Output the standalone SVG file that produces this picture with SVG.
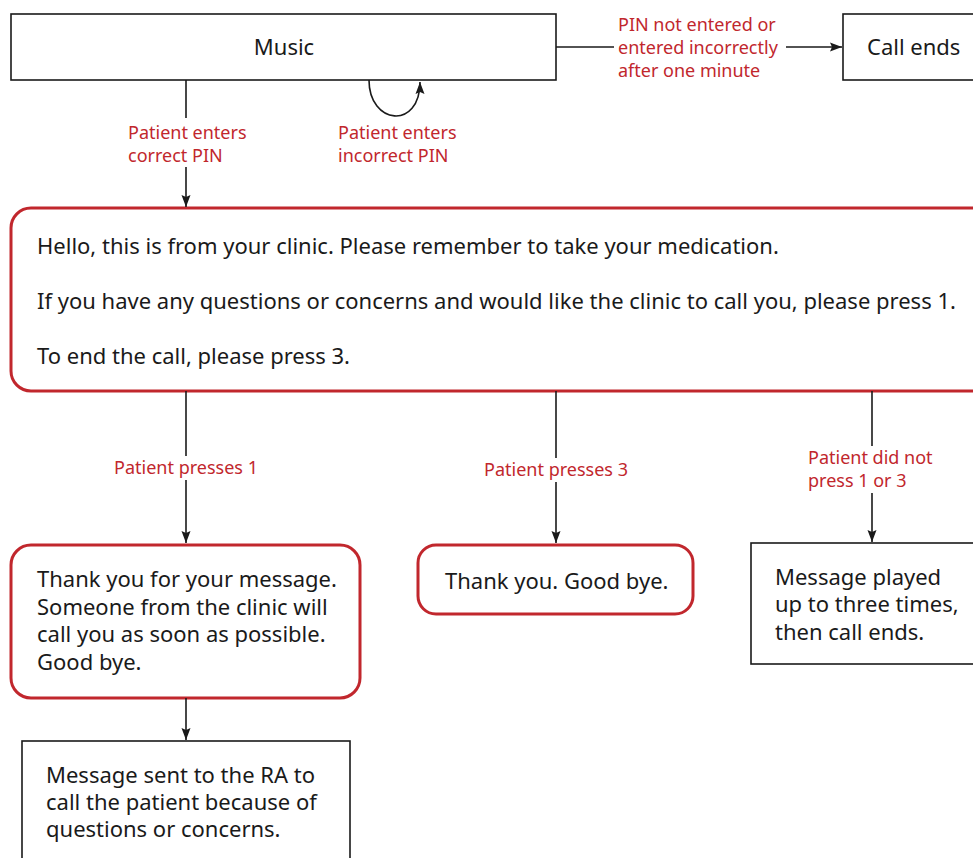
<svg xmlns="http://www.w3.org/2000/svg" width="973" height="858" viewBox="0 0 973 858">
<defs>
<marker id="ah" viewBox="0 0 12 10" refX="12" refY="5" markerWidth="12" markerHeight="10" markerUnits="userSpaceOnUse" orient="auto">
<path d="M0,0.5 L12,5 L0,9.5 L2,5 z" fill="#1a1a1a"/>
</marker>
<style>
.box{fill:#fff;stroke:#1a1a1a;stroke-width:1.6}
.rbox{fill:#fff;stroke:#c1272d;stroke-width:3}
.t{font-family:"Noto Sans","Open Sans","DejaVu Sans",sans-serif;font-size:22px;fill:#1a1a1a}
.l{font-family:"Noto Sans","Open Sans","DejaVu Sans",sans-serif;font-size:18px;fill:#c1272d}
.c{fill:none;stroke:#1a1a1a;stroke-width:1.6}
</style>
</defs>
<rect width="973" height="858" fill="#fff"/>
<g id="music"><rect class="box" x="11" y="14" width="545" height="66"/><text class="t" x="284" y="55" text-anchor="middle">Music</text></g>
<g id="callends"><rect class="box" x="843" y="14" width="140" height="66"/><text class="t" x="867" y="55">Call ends</text></g>
<g id="greeting"><rect class="rbox" x="11" y="208" width="980" height="183" rx="20"/>
<text class="t" x="37" y="254">Hello, this is from your clinic. Please remember to take your medication.</text>
<text class="t" x="37" y="309">If you have any questions or concerns and would like the clinic to call you, please press 1.</text>
<text class="t" x="37" y="364">To end the call, please press 3.</text></g>
<g id="thanks1"><rect class="rbox" x="11" y="545" width="349" height="153" rx="20"/>
<text class="t" x="37" y="587">Thank you for your message.</text>
<text class="t" x="37" y="615">Someone from the clinic will</text>
<text class="t" x="37" y="642">call you as soon as possible.</text>
<text class="t" x="37" y="670">Good bye.</text></g>
<g id="thanks3"><rect class="rbox" x="418" y="545" width="275" height="69" rx="18"/>
<text class="t" x="445" y="589">Thank you. Good bye.</text></g>
<g id="replay"><rect class="box" x="751" y="543" width="240" height="121"/>
<text class="t" x="775" y="585">Message played</text>
<text class="t" x="775" y="612">up to three times,</text>
<text class="t" x="775" y="640">then call ends.</text></g>
<g id="ra"><rect class="box" x="22" y="741" width="328" height="130"/>
<text class="t" x="46" y="783">Message sent to the RA to</text>
<text class="t" x="46" y="810">call the patient because of</text>
<text class="t" x="46" y="837">questions or concerns.</text></g>
<g id="connectors">
<path class="c" d="M556,47 H614"/>
<path class="c" d="M786,47 H842" marker-end="url(#ah)"/>
<path class="c" d="M186,80 V118"/>
<path class="c" d="M186,167 V207" marker-end="url(#ah)"/>
<path class="c" d="M369,80 C369,125 420,130 420,82" marker-end="url(#ah)"/>
<path class="c" d="M186,391 V456"/>
<path class="c" d="M186,480 V543" marker-end="url(#ah)"/>
<path class="c" d="M556,391 V458"/>
<path class="c" d="M556,482 V543" marker-end="url(#ah)"/>
<path class="c" d="M872,391 V446"/>
<path class="c" d="M872,493 V542" marker-end="url(#ah)"/>
<path class="c" d="M186,698 V740" marker-end="url(#ah)"/>
<text class="l" x="618" y="31">PIN not entered or</text>
<text class="l" x="618" y="54">entered incorrectly</text>
<text class="l" x="618" y="77">after one minute</text>
<text class="l" x="128" y="139">Patient enters</text>
<text class="l" x="128" y="162">correct PIN</text>
<text class="l" x="338" y="139">Patient enters</text>
<text class="l" x="338" y="162">incorrect PIN</text>
<text class="l" x="186" y="474" text-anchor="middle">Patient presses 1</text>
<text class="l" x="556" y="476" text-anchor="middle">Patient presses 3</text>
<text class="l" x="808" y="464">Patient did not</text>
<text class="l" x="808" y="487">press 1 or 3</text>
</g>
</svg>
